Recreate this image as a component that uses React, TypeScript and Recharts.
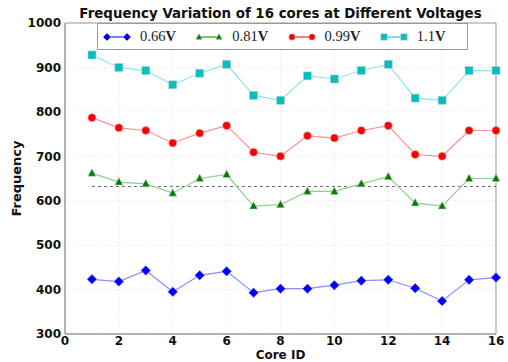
import React from "react"
import {
  LineChart,
  Line,
  XAxis,
  YAxis,
  CartesianGrid,
  ReferenceLine,
  ReferenceArea,
  Label,
} from "recharts"

// core ids 1..16
const cores = [1, 2, 3, 4, 5, 6, 7, 8, 9, 10, 11, 12, 13, 14, 15, 16]
const v066 = [423, 418, 443, 395, 432, 441, 393, 402, 402, 410, 420, 422, 403, 374, 422, 427]
const v081 = [662, 642, 638, 617, 650, 659, 588, 591, 621, 621, 638, 654, 595, 588, 650, 650]
const v099 = [787, 764, 758, 730, 752, 769, 709, 700, 746, 741, 758, 769, 704, 700, 758, 758]
const v110 = [928, 900, 893, 861, 887, 907, 837, 826, 881, 874, 893, 907, 831, 826, 893, 893]
const threshold = 632

const xTicks = [0, 2, 4, 6, 8, 10, 12, 14, 16]
const yTicks = [300, 400, 500, 600, 700, 800, 900, 1000]

const series = [
  { key: "v066", label: "0.66", line: "#8c8cff", mark: "#0000ff", shape: "diamond" },
  { key: "v081", label: "0.81", line: "#8fd08f", mark: "#007f00", shape: "triangle" },
  { key: "v099", label: "0.99", line: "#ff9090", mark: "#ff0000", shape: "circle" },
  { key: "v110", label: "1.1", line: "#90e6e6", mark: "#00bfbf", shape: "square" },
]

const data = cores.map((c, i) => ({
  core: c,
  v066: v066[i],
  v081: v081[i],
  v099: v099[i],
  v110: v110[i],
}))

const FONT = "'DejaVu Sans', sans-serif"

function Marker({ cx, cy, shape, color, s = 1 }: any) {
  if (cx == null || cy == null) return null
  const edge = "rgba(200,200,200,0.7)"
  if (shape === "diamond")
    return <polygon points={`${cx},${cy - 5 * s} ${cx + 5 * s},${cy} ${cx},${cy + 5 * s} ${cx - 5 * s},${cy}`} fill={color} stroke={edge} strokeWidth={0.8} />
  if (shape === "triangle")
    return <polygon points={`${cx},${cy - 4.5 * s} ${cx + 4 * s},${cy + 3 * s} ${cx - 4 * s},${cy + 3 * s}`} fill={color} stroke={edge} strokeWidth={0.8} />
  if (shape === "circle") return <circle cx={cx} cy={cy} r={4 * s} fill={color} stroke={edge} strokeWidth={0.8} />
  return <rect x={cx - 4 * s} y={cy - 4 * s} width={8 * s} height={8 * s} fill={color} stroke={edge} strokeWidth={0.8} />
}

function LegendBox() {
  return (
    <div
      style={{
        position: "absolute",
        top: 23,
        left: 97,
        width: 371,
        height: 27,
        border: "1px solid #999",
        background: "#fff",
        display: "flex",
        alignItems: "center",
        boxSizing: "border-box",
        fontFamily: "'Liberation Serif', serif",
        fontSize: 14.5,
      }}
    >
      {series.map((s) => (
        <div key={s.key} style={{ display: "flex", alignItems: "center", marginLeft: 5, width: 93 }}>
          <svg width={28} height={12}>
            <line x1={3} y1={6} x2={25} y2={6} stroke={s.mark} strokeWidth={1} />
            <Marker cx={4} cy={6} shape={s.shape} color={s.mark} s={0.8} />
            <Marker cx={24} cy={6} shape={s.shape} color={s.mark} s={0.8} />
          </svg>
          <span style={{ marginLeft: 9, color: "#222" }}>
            {s.label}
            <b>V</b>
          </span>
        </div>
      ))}
    </div>
  )
}

export default function App() {
  return (
    <div style={{ position: "absolute", left: 0, top: 0, width: 508, height: 362, background: "#fff" }}>
      <LineChart width={508} height={362} data={data} margin={{ top: 23, right: 12, bottom: 0, left: 0 }}>
        <CartesianGrid stroke="#e4e4e4" strokeDasharray="1 2" />
        <XAxis
          dataKey="core"
          type="number"
          domain={[0, 16]}
          ticks={xTicks}
          height={28}
          tickSize={0}
          tickMargin={2}
          stroke="#999"
          tick={{ fill: "#111", fontFamily: FONT, fontWeight: "bold", fontSize: 12 }}
        >
          <Label value="Core ID" position="bottom" offset={-12} style={{ fill: "#111", fontFamily: FONT, fontWeight: "bold", fontSize: 12 }} />
        </XAxis>
        <YAxis
          type="number"
          domain={[300, 1000]}
          ticks={yTicks}
          width={65}
          tickSize={0}
          tickMargin={4}
          stroke="#999"
          tick={{ fill: "#111", fontFamily: FONT, fontWeight: "bold", fontSize: 12 }}
        >
          <Label
            value="Frequency"
            angle={-90}
            position="insideLeft"
            offset={16}
            style={{ fill: "#111", fontFamily: FONT, fontWeight: "bold", fontSize: 13, textAnchor: "middle" }}
          />
        </YAxis>
        <ReferenceArea x1={0} x2={16} y1={300} y2={1000} fill="none" stroke="#999" strokeWidth={1} />
        <ReferenceLine
          segment={[
            { x: 1, y: threshold },
            { x: 16, y: threshold },
          ]}
          stroke="#444"
          strokeDasharray="3 3"
          strokeWidth={0.8}
        />
        {series.map((s) => (
          <Line
            key={s.key}
            dataKey={s.key}
            type="linear"
            stroke={s.line}
            strokeWidth={1.2}
            isAnimationActive={false}
            dot={(p: any) => <Marker key={`${s.key}-${p.index}`} cx={p.cx} cy={p.cy} shape={s.shape} color={s.mark} />}
            activeDot={false}
          />
        ))}
      </LineChart>
      <div
        style={{
          position: "absolute",
          left: 65,
          width: 431,
          top: 6,
          textAlign: "center",
          fontFamily: FONT,
          fontWeight: "bold",
          fontSize: 13.4,
          color: "#111",
        }}
      >
        Frequency Variation of 16 cores at Different Voltages
      </div>
      <LegendBox />
    </div>
  )
}
